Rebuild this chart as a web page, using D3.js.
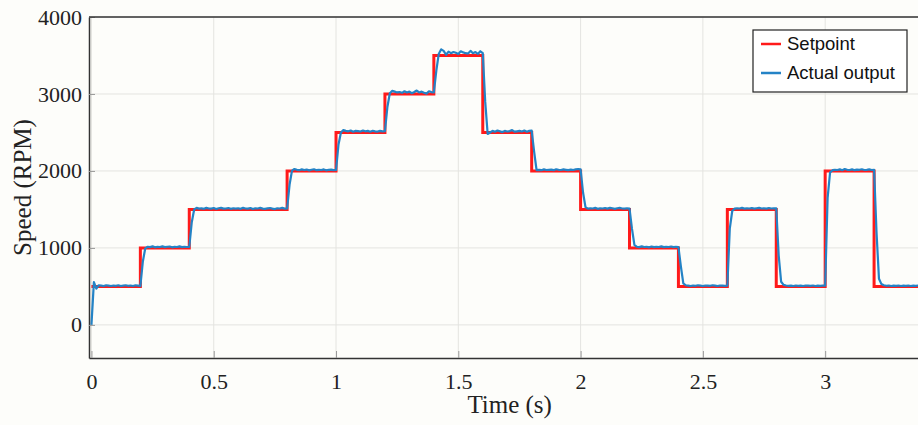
<!DOCTYPE html>
<html>
<head>
<meta charset="utf-8">
<script src="https://cdn.jsdelivr.net/npm/d3@7"></script>
<style>
  body { margin: 0; background: #fdfdfa; }
  .tick text { font-family: "Liberation Serif", "Times New Roman", serif; font-size: 22px; fill: #222; }
  .axis-title { font-family: "Liberation Serif", "Times New Roman", serif; font-size: 25px; fill: #222; }
  .legend text { font-family: "Liberation Sans", Arial, sans-serif; font-size: 18.5px; fill: #111; }
</style>
</head>
<body>
<div id="chart"></div>
<script>
var width = 918;
var height = 425;

// setpoint steps: level holds from time[i] until time[i+1]
var setpointTimes = [0, 0.2, 0.4, 0.8, 1.0, 1.2, 1.4, 1.6, 1.8, 2.0, 2.2, 2.4, 2.6, 2.8, 3.0, 3.2, 3.4];
var setpointLevels = [500, 1000, 1500, 2000, 2500, 3000, 3500, 2500, 2000, 1500, 1000, 500, 1500, 500, 2000, 500, 500];

// actual output, sampled every 0.01 s (one row per 0.2 s)
var sampleStep = 0.01;
var actualOutput = [
  0, 555, 470, 515, 510, 505, 515, 510, 505, 512, 508, 515, 505, 510, 515, 508, 512, 505, 515, 510,
  505, 820, 995, 1015, 1010, 1020, 1008, 1015, 1012, 1020, 1010, 1015, 1018, 1008, 1015, 1012, 1020, 1010, 1015, 1012,
  1012, 1330, 1500, 1520, 1510, 1515, 1508, 1520, 1512, 1510, 1518, 1505, 1515, 1520, 1510, 1512, 1518, 1508, 1515, 1510,
  1515, 1508, 1520, 1512, 1510, 1518, 1505, 1515, 1512, 1520, 1510, 1508, 1515, 1518, 1510, 1505, 1515, 1512, 1520, 1510,
  1512, 1820, 2005, 2025, 2015, 2010, 2020, 2012, 2018, 2008, 2015, 2022, 2010, 2015, 2012, 2020, 2008, 2015, 2018, 2010,
  2012, 2340, 2500, 2530, 2520, 2515, 2525, 2510, 2520, 2518, 2512, 2525, 2515, 2520, 2510, 2522, 2515, 2512, 2520, 2515,
  2518, 2830, 3010, 3040, 3030, 3020, 3025, 3015, 3035, 3020, 3030, 3010, 3025, 3045, 3020, 3030, 3015, 3005, 3035, 3025,
  3020, 3300, 3520, 3580, 3560, 3510, 3550, 3530, 3545, 3535, 3520, 3555, 3540, 3530, 3525, 3560, 3530, 3545, 3520, 3555,
  3530, 2900, 2480, 2500, 2520, 2510, 2525, 2515, 2505, 2520, 2512, 2518, 2530, 2510, 2515, 2520, 2512, 2525, 2510, 2520,
  2525, 2250, 2010, 2015, 2010, 2020, 2012, 2015, 2018, 2010, 2022, 2015, 2012, 2020, 2015, 2010, 2018, 2012, 2020, 2025,
  2020, 1720, 1530, 1510, 1515, 1512, 1520, 1508, 1515, 1512, 1518, 1510, 1520, 1515, 1508, 1515, 1520, 1512, 1510, 1515,
  1512, 1250, 1040, 1015, 1010, 1020, 1012, 1015, 1008, 1018, 1010, 1015, 1012, 1020, 1010, 1015, 1012, 1018, 1010, 1015,
  1012, 760, 540, 515, 510, 505, 512, 508, 515, 510, 505, 512, 510, 508, 515, 510, 505, 512, 510, 508,
  510, 1250, 1480, 1510, 1515, 1512, 1520, 1510, 1515, 1512, 1518, 1510, 1515, 1520, 1512, 1515, 1510, 1518, 1512, 1515,
  1515, 900, 560, 520, 512, 508, 510, 505, 512, 508, 510, 505, 512, 510, 508, 512, 505, 510, 508, 512,
  510, 1650, 1980, 2010, 2015, 2012, 2020, 2010, 2025, 2015, 2012, 2020, 2010, 2018, 2015, 2022, 2012, 2015, 2020, 2012,
  2015, 1200, 600, 530, 515, 508, 512, 505, 510, 508, 512, 505, 510, 508, 512, 505, 510, 508, 512, 505,
  510
];

var xTicks = [0, 0.5, 1, 1.5, 2, 2.5, 3];
var yTicks = [0, 1000, 2000, 3000, 4000];
var seriesNames = ['Setpoint', 'Actual output'];
var seriesColors = ['#ff1a1a', '#2483c6'];

var margin = { top: 17, right: -5, bottom: 67, left: 89 };
var innerW = width - margin.left - margin.right;
var innerH = height - margin.top - margin.bottom;

var svg = d3.select('#chart').append('svg')
  .attr('width', width)
  .attr('height', height);

var x = d3.scaleLinear().domain([-0.01, 3.4]).range([0, innerW]);
var y = d3.scaleLinear().domain([-430, 4000]).range([innerH, 0]);

var g = svg.append('g').attr('transform', 'translate(' + margin.left + ',' + margin.top + ')');

// grid
g.append('g').selectAll('line.vgrid').data(xTicks)
  .enter().append('line')
  .attr('x1', function(d) { return x(d); })
  .attr('x2', function(d) { return x(d); })
  .attr('y1', 0).attr('y2', innerH)
  .attr('stroke', '#e4e4e0').attr('stroke-width', 1);
g.append('g').selectAll('line.hgrid').data(yTicks)
  .enter().append('line')
  .attr('x1', 0).attr('x2', innerW)
  .attr('y1', function(d) { return y(d); })
  .attr('y2', function(d) { return y(d); })
  .attr('stroke', '#e4e4e0').attr('stroke-width', 1);

// lines
var setpointPts = setpointTimes.map(function(t, i) { return [t, setpointLevels[i]]; });
var actualPts = actualOutput.map(function(v, i) { return [i * sampleStep, v]; });

var stepLine = d3.line()
  .x(function(d) { return x(d[0]); })
  .y(function(d) { return y(d[1]); })
  .curve(d3.curveStepAfter);
var plainLine = d3.line()
  .x(function(d) { return x(d[0]); })
  .y(function(d) { return y(d[1]); });

g.append('path').datum(setpointPts)
  .attr('d', stepLine)
  .attr('fill', 'none')
  .attr('stroke', seriesColors[0])
  .attr('stroke-width', 3);

g.append('path').datum(actualPts)
  .attr('d', plainLine)
  .attr('fill', 'none')
  .attr('stroke', seriesColors[1])
  .attr('stroke-width', 2.2)
  .attr('stroke-linejoin', 'round');

// axes
var xAxis = d3.axisBottom(x).tickValues(xTicks).tickFormat(d3.format('')).tickSizeInner(-7).tickSizeOuter(0).tickPadding(15);
var yAxis = d3.axisLeft(y).tickValues(yTicks).tickFormat(d3.format('')).tickSizeInner(-6).tickSizeOuter(0).tickPadding(7);

var gx = g.append('g').attr('transform', 'translate(0,' + innerH + ')').call(xAxis);
var gy = g.append('g').call(yAxis);
gx.select('.domain').attr('stroke', '#333').attr('stroke-width', 1.5);
gy.select('.domain').attr('stroke', '#333').attr('stroke-width', 1.5);
gx.selectAll('.tick line').attr('stroke', '#999');
gy.selectAll('.tick line').attr('stroke', '#999');

// top border
g.append('line')
  .attr('x1', 0).attr('x2', innerW)
  .attr('y1', 0).attr('y2', 0)
  .attr('stroke', '#333').attr('stroke-width', 1.5);

// axis titles
svg.append('text').attr('class', 'axis-title')
  .attr('x', margin.left + x(1.71)).attr('y', 413)
  .attr('text-anchor', 'middle')
  .text('Time (s)');
svg.append('text').attr('class', 'axis-title')
  .attr('transform', 'translate(31,' + (margin.top + innerH / 2) + ') rotate(-90)')
  .attr('text-anchor', 'middle')
  .text('Speed (RPM)');

// legend
var legend = svg.append('g').attr('class', 'legend').attr('transform', 'translate(753,30)');
legend.append('rect')
  .attr('width', 154).attr('height', 62)
  .attr('fill', '#fff').attr('stroke', '#222').attr('stroke-width', 1.2);
var items = legend.selectAll('g.item').data(seriesNames)
  .enter().append('g')
  .attr('transform', function(d, i) { return 'translate(0,' + (14 + i * 29) + ')'; });
items.append('line')
  .attr('x1', 8).attr('x2', 28)
  .attr('stroke', function(d, i) { return seriesColors[i]; })
  .attr('stroke-width', 2.5);
items.append('text')
  .attr('x', 34).attr('y', 6)
  .text(function(d) { return d; });
</script>
</body>
</html>
